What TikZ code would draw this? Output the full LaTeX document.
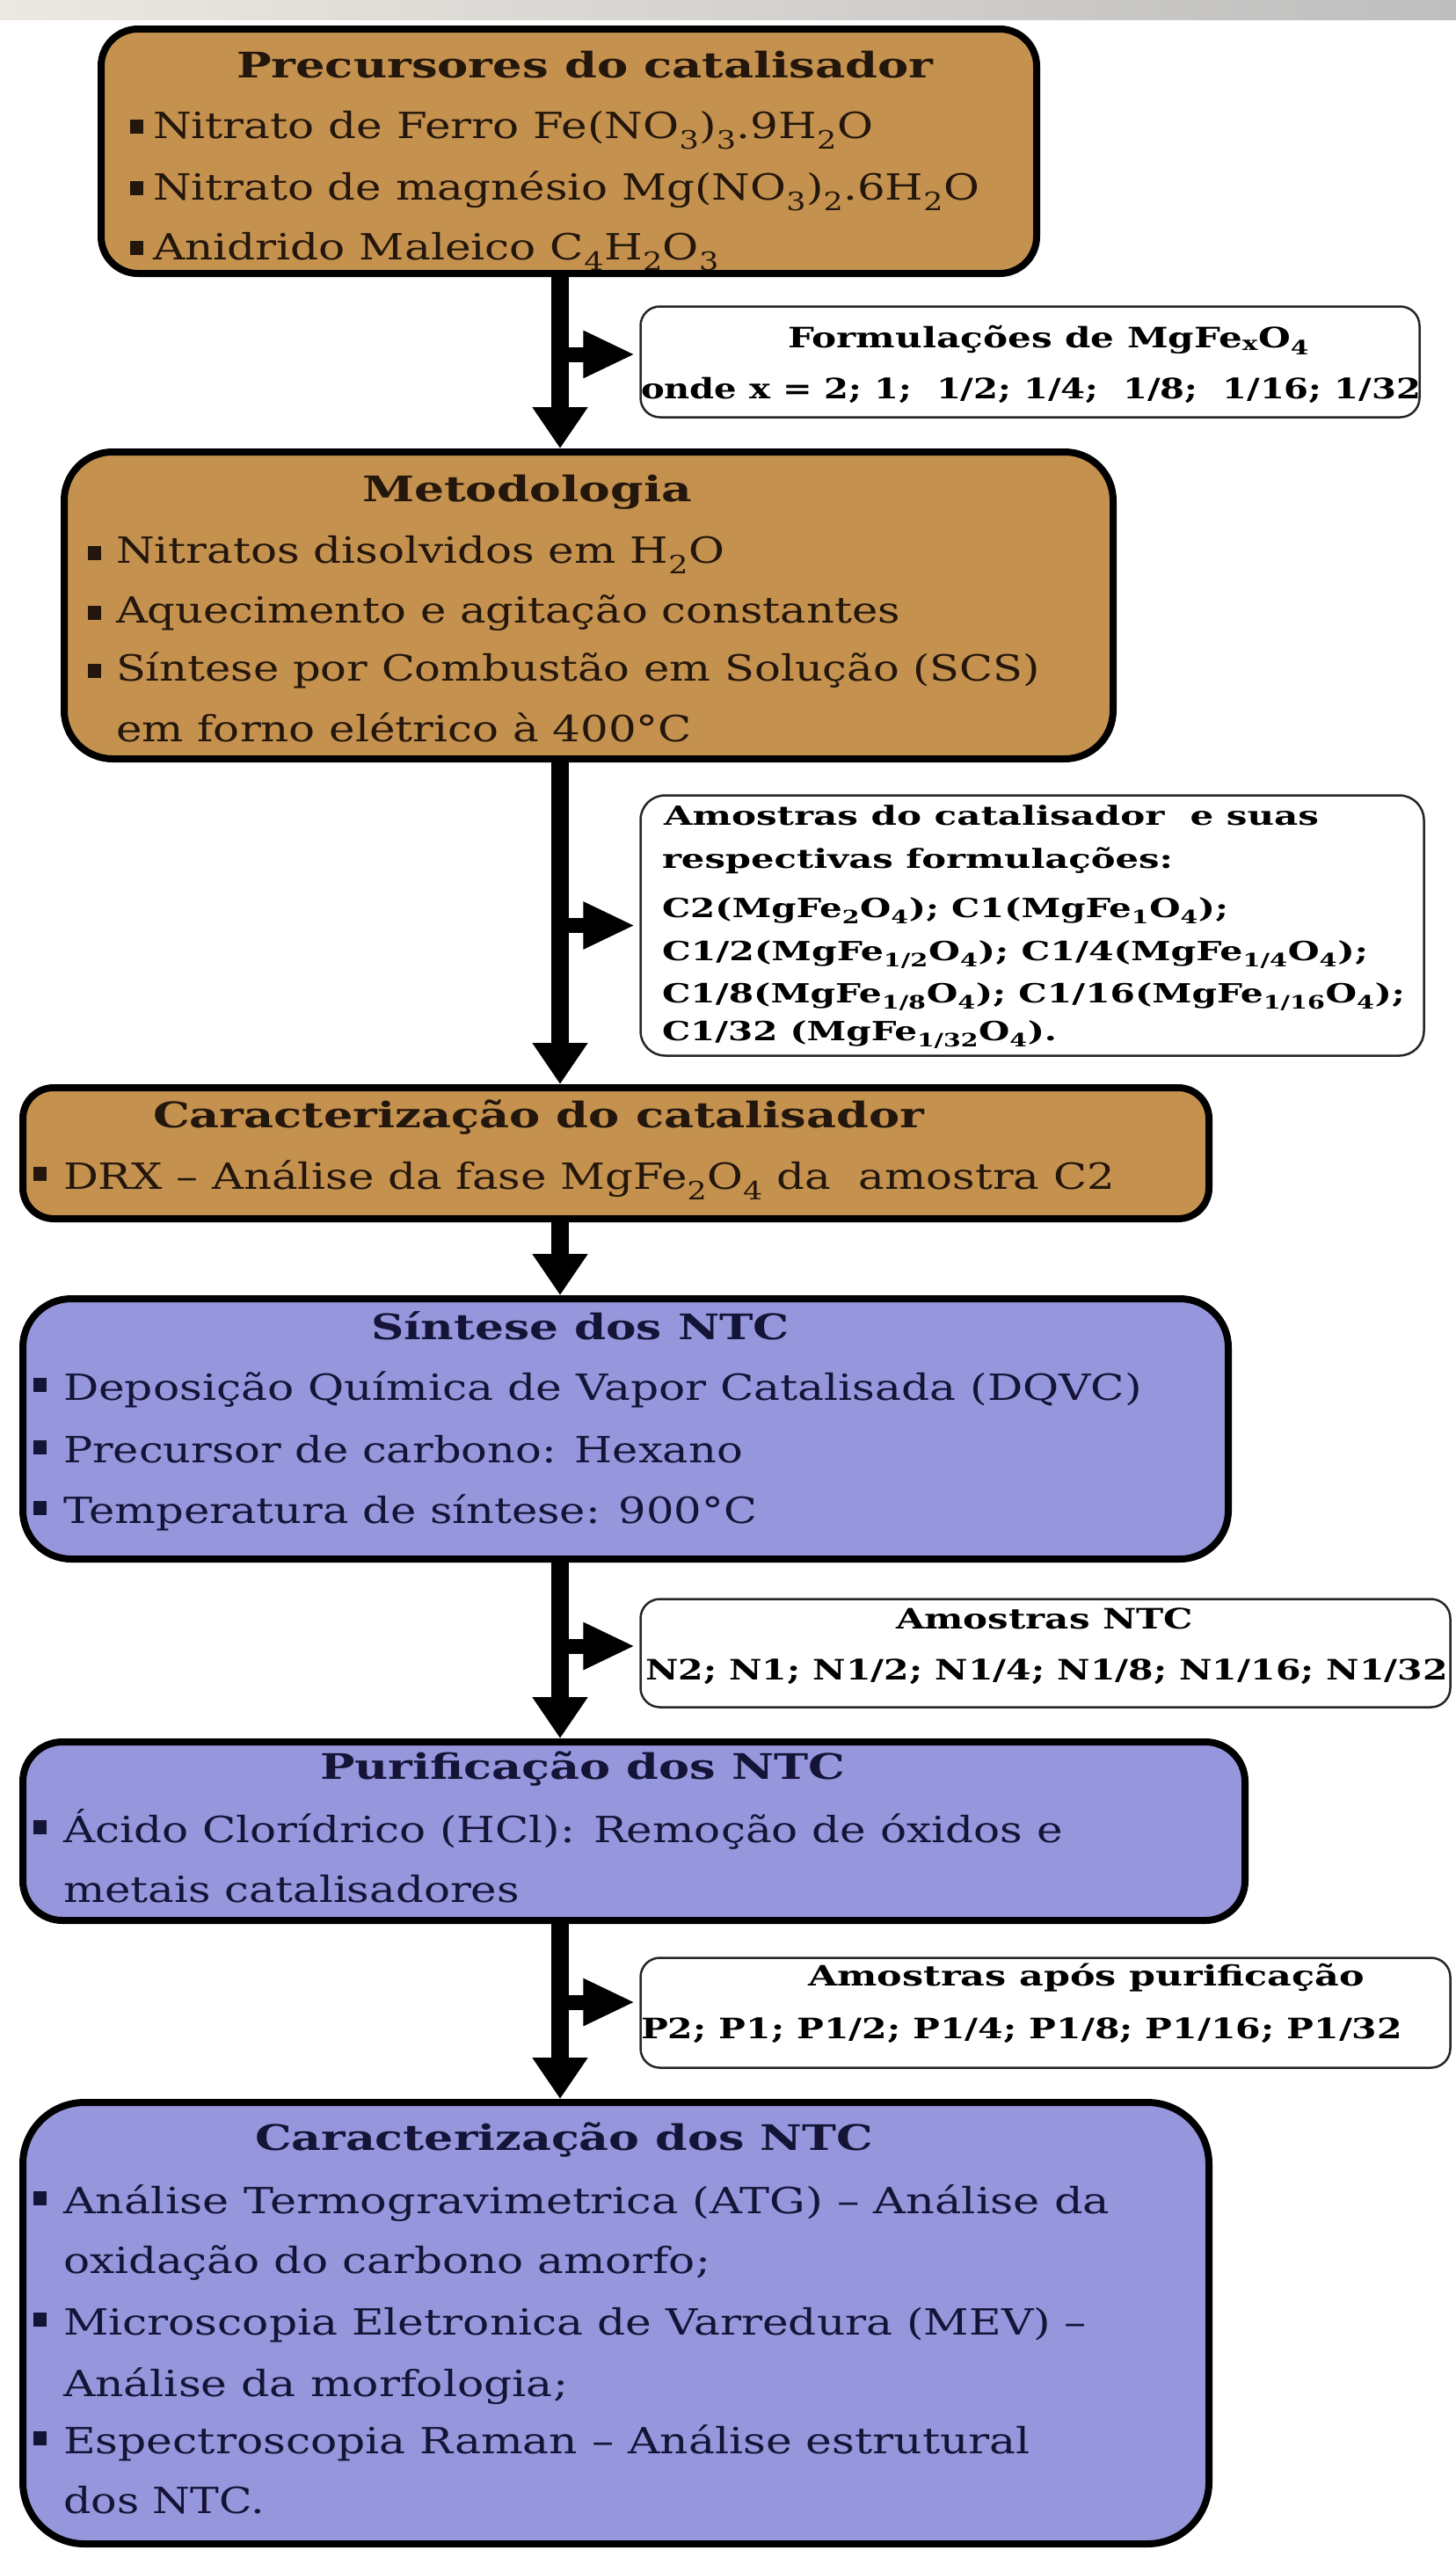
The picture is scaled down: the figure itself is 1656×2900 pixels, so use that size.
\documentclass[tikz,border=0pt]{standalone}
\usepackage{fontspec}
\setmainfont{DejaVu Serif}
\usepackage{graphicx}
\usetikzlibrary{arrows.meta}
\definecolor{boxtan}{RGB}{196,145,78}
\definecolor{boxlav}{RGB}{150,150,221}
\definecolor{tantext}{RGB}{35,22,12}
\definecolor{lavtext}{RGB}{20,20,55}
\newcommand\fitw[2]{\resizebox{#1pt}{\height}{#2}}
\newcommand\chsub[1]{\textsubscript{#1}}
\newcommand\blt[1]{\rule[#1pt]{15pt}{16pt}}
\begin{document}
\begin{tikzpicture}[x=1pt,y=-1pt,
  mainbox/.style={draw=black, line width=8pt, rectangle, inner sep=0pt},
  tanbox/.style={mainbox, fill=boxtan},
  lavbox/.style={mainbox, fill=boxlav},
  sidebox/.style={draw=black!85, line width=2.5pt, fill=white, rectangle, inner sep=0pt},
  txt/.style={anchor=base west, inner sep=0pt, outer sep=0pt},
  ttl/.style={txt, font=\fontsize{40pt}{46pt}\selectfont\bfseries},
  body/.style={txt, font=\fontsize{41pt}{47pt}\selectfont},
  side/.style={txt, font=\fontsize{32pt}{38pt}\selectfont\bfseries, text=black},
  sidesm/.style={txt, font=\fontsize{30pt}{36pt}\selectfont\bfseries, text=black},
  down/.style={line width=20pt, -{Triangle[length=47pt,width=60pt]}},
  sidearr/.style={line width=17pt, -{Triangle[length=59pt,width=50pt]}, shorten >=5pt},
]
\useasboundingbox (0,0) rectangle (1656,2900);
\shade[left color={rgb,255:red,236;green,232;blue,226}, middle color=white, right color={rgb,255:red,190;green,190;blue,190}, draw=none] (0,0) rectangle (1656,22);

% main boxes
\node[tanbox, minimum width=1064pt, minimum height=278pt, rounded corners=42pt] (b1) at (647,172) {};
\node[tanbox, minimum width=1193pt, minimum height=349pt, rounded corners=55pt] (b2) at (669.5,688.5) {};
\node[tanbox, minimum width=1349pt, minimum height=149pt, rounded corners=35pt] (b3) at (700.5,1311.5) {};
\node[lavbox, minimum width=1371pt, minimum height=296pt, rounded corners=55pt] (b4) at (711.5,1625) {};
\node[lavbox, minimum width=1390pt, minimum height=203pt, rounded corners=45pt] (b5) at (721,2082.5) {};
\node[lavbox, minimum width=1349pt, minimum height=502pt, rounded corners=70pt] (b6) at (700.5,2642) {};

% side boxes
\node[sidebox, minimum width=886pt, minimum height=126pt, rounded corners=22pt] (s1) at (1171.5,411.5) {};
\node[sidebox, minimum width=891pt, minimum height=296pt, rounded corners=28pt] (s2) at (1174,1052.5) {};
\node[sidebox, minimum width=921pt, minimum height=123pt, rounded corners=22pt] (s3) at (1189,1880) {};
\node[sidebox, minimum width=921pt, minimum height=125pt, rounded corners=22pt] (s4) at (1189,2289) {};

% box 1 text
\begin{scope}[text=tantext]
\node[ttl] (b1t) at (269,88) {\fitw{792}{Precursores do catalisador}};
\node[body] (b1a) at (148,157) {\blt{5}\hspace{11pt}\fitw{819}{Nitrato de Ferro Fe(NO\chsub{3})\chsub{3}.9H\chsub{2}O}};
\node[body] (b1b) at (148,227) {\blt{5}\hspace{11pt}\fitw{940}{Nitrato de magnésio Mg(NO\chsub{3})\chsub{2}.6H\chsub{2}O}};
\node[body] (b1c) at (148,295) {\blt{5}\hspace{11pt}\fitw{644}{Anidrido Maleico C\chsub{4}H\chsub{2}O\chsub{3}}};
% box 2 text
\node[ttl] (b2t) at (412,570) {\fitw{375}{Metodologia}};
\node[body] (b2a) at (100,640) {\blt{3}\hspace{17pt}\fitw{692}{Nitratos disolvidos em H\chsub{2}O}};
\node[body] (b2b) at (100,708) {\blt{3}\hspace{17pt}\fitw{892}{Aquecimento e agitação constantes}};
\node[body] (b2c) at (100,774) {\blt{3}\hspace{17pt}\fitw{1051}{Síntese por Combustão em Solução (SCS)}};
\node[body] (b2d) at (132,843) {\fitw{655}{em forno elétrico à 400°C}};
% box 3 text
\node[ttl] (b3t) at (174,1282) {\fitw{877}{Caracterização do catalisador}};
\node[body] (b3a) at (38,1352) {\blt{9}\hspace{19pt}\fitw{1196}{DRX – Análise da fase MgFe\chsub{2}O\chsub{4} da\ \ amostra C2}};
\end{scope}

\begin{scope}[text=lavtext]
% box 4 text
\node[ttl] (b4t) at (422,1523) {\fitw{476}{Síntese dos NTC}};
\node[body] (b4a) at (38,1592) {\blt{9}\hspace{19pt}\fitw{1227}{Deposição Química de Vapor Catalisada (DQVC)}};
\node[body] (b4b) at (38,1663) {\blt{9}\hspace{19pt}\fitw{773}{Precursor de carbono: Hexano}};
\node[body] (b4c) at (38,1732) {\blt{9}\hspace{19pt}\fitw{789}{Temperatura de síntese: 900°C}};
% box 5 text
\node[ttl] (b5t) at (364,2023) {\fitw{597}{Purificação dos NTC}};
\node[body] (b5a) at (38,2095) {\blt{9}\hspace{19pt}\fitw{1137}{Ácido Clorídrico (HCl): Remoção de óxidos e}};
\node[body] (b5b) at (72,2163) {\fitw{519}{metais catalisadores}};
% box 6 text
\node[ttl] (b6t) at (290,2445) {\fitw{703}{Caracterização dos NTC}};
\node[body] (b6a) at (38,2517) {\blt{9}\hspace{19pt}\fitw{1190}{Análise Termogravimetrica (ATG) – Análise da}};
\node[body] (b6b) at (72,2585) {\fitw{736}{oxidação do carbono amorfo;}};
\node[body] (b6c) at (38,2655) {\blt{9}\hspace{19pt}\fitw{1164}{Microscopia Eletronica de Varredura (MEV) –}};
\node[body] (b6d) at (72,2725) {\fitw{574}{Análise da morfologia;}};
\node[body] (b6e) at (38,2790) {\blt{9}\hspace{19pt}\fitw{1100}{Espectroscopia Raman – Análise estrutural}};
\node[body] (b6f) at (72,2858) {\fitw{229}{dos NTC.}};
\end{scope}

% side box texts
\node[side] (s1t) at (896,395) {\fitw{593}{Formulações de MgFe\chsub{x}O\chsub{4}}};
\node[side] (s1a) at (729,453) {\fitw{887}{onde x = 2; 1;\ \ 1/2; 1/4;\ \ 1/8;\ \ 1/16; 1/32}};
\node[sidesm] (s2a) at (755,938) {\fitw{745}{Amostras do catalisador\ \ e suas}};
\node[sidesm] (s2b) at (753,987) {\fitw{581}{respectivas formulações:}};
\node[sidesm] (s2c) at (753,1043) {\fitw{644}{C2(MgFe\chsub{2}O\chsub{4}); C1(MgFe\chsub{1}O\chsub{4});}};
\node[sidesm] (s2d) at (753,1092) {\fitw{803}{C1/2(MgFe\chsub{1/2}O\chsub{4}); C1/4(MgFe\chsub{1/4}O\chsub{4});}};
\node[sidesm] (s2e) at (753,1140) {\fitw{845}{C1/8(MgFe\chsub{1/8}O\chsub{4}); C1/16(MgFe\chsub{1/16}O\chsub{4});}};
\node[sidesm] (s2f) at (753,1183) {\fitw{449}{C1/32 (MgFe\chsub{1/32}O\chsub{4}).}};
\node[side] (s3t) at (1019,1852) {\fitw{338}{Amostras NTC}};
\node[side] (s3a) at (734,1910) {\fitw{913}{N2; N1; N1/2; N1/4; N1/8; N1/16; N1/32}};
\node[side] (s4t) at (919,2258) {\fitw{633}{Amostras após purificação}};
\node[side] (s4a) at (729,2318) {\fitw{866}{P2; P1; P1/2; P1/4; P1/8; P1/16; P1/32}};

% connectors
\coordinate (axis) at (637,0);
\draw[down] (b1.south -| axis) -- (b2.north -| axis);
\draw[down] (b2.south -| axis) -- (b3.north -| axis);
\draw[down] (b3.south -| axis) -- (b4.north -| axis);
\draw[down] (b4.south -| axis) -- (b5.north -| axis);
\draw[down] (b5.south -| axis) -- (b6.north -| axis);

\coordinate (e1) at ([yshift=8.5pt]s1.west);
\coordinate (e2) at (s2.west);
\coordinate (e3) at ([yshift=8pt]s3.west);
\coordinate (e4) at ([yshift=12pt]s4.west);
\draw[sidearr] (e1 -| axis) -- (e1);
\draw[sidearr] (e2 -| axis) -- (e2);
\draw[sidearr] (e3 -| axis) -- (e3);
\draw[sidearr] (e4 -| axis) -- (e4);
\end{tikzpicture}
\end{document}
